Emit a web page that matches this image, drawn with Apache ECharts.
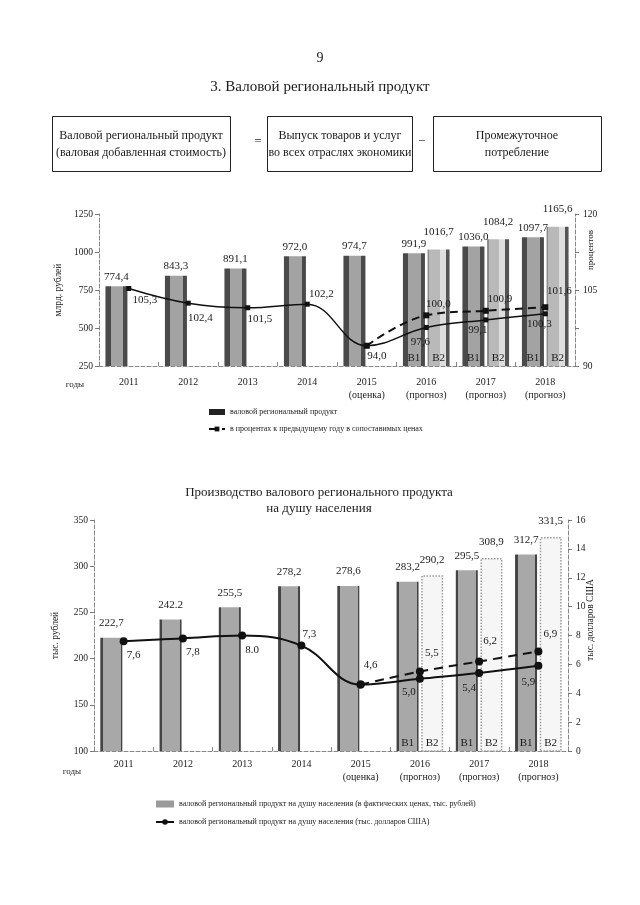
<!DOCTYPE html>
<html><head><meta charset="utf-8">
<script src="https://cdn.jsdelivr.net/npm/echarts@6/dist/echarts.min.js"></script>
<style>html,body{margin:0;padding:0;background:#fff}#c{width:640px;height:905px}</style>
</head><body><div id="c"></div>
<script>
// ---- data ----
const years = ['2011','2012','2013','2014','2015\n(оценка)','2016\n(прогноз)','2017\n(прогноз)','2018\n(прогноз)'];
const grpB1 = [774.4, 843.3, 891.1, 972.0, 974.7, 991.9, 1036.0, 1097.7];
const grpB2 = [null, null, null, null, null, 1016.7, 1084.2, 1165.6];
const grpB1Labels = ['774,4','843,3','891,1','972,0','974,7','991,9','1036,0','1097,7'];
const grpB2Labels = ['','','','','','1016,7','1084,2','1165,6'];
const growthB1 = [105.3, 102.4, 101.5, 102.2, 94.0, 97.6, 99.1, 100.3];
const growthB2 = [null, null, null, null, 94.0, 100.0, 100.9, 101.6];
const growthB1Labels = ['105,3','102,4','101,5','102,2','94,0','97,6','99,1','100,3'];
const growthB2Labels = ['','','','','','100,0','100,9','101,6'];
const perCapB1 = [222.7, 242.2, 255.5, 278.2, 278.6, 283.2, 295.5, 312.7];
const perCapB2 = [null, null, null, null, null, 290.2, 308.9, 331.5];
const perCapB1Labels = ['222,7','242.2','255,5','278,2','278,6','283,2','295,5','312,7'];
const perCapB2Labels = ['','','','','','290,2','308,9','331,5'];
const usdB1 = [7.6, 7.8, 8.0, 7.3, 4.6, 5.0, 5.4, 5.9];
const usdB2 = [null, null, null, null, 4.6, 5.5, 6.2, 6.9];
const usdB1Labels = ['7,6','7,8','8.0','7,3','4,6','5,0','5,4','5,9'];
const usdB2Labels = ['','','','','','5,5','6,2','6,9'];
const variantB1 = ['','','','','','B1','B1','B1'];
const variantB2 = ['','','','','','B2','B2','B2'];

// ---- styles (label offsets, not data) ----
const topSolidOff = [[16,12],[12,15],[12,11],[14,-10],[10,10],[-6,15],[-8,10],[-6,10]];
const topDashOff  = [null,null,null,null,null,[12,-11],[14,-12],[14,-16]];
const botSolidOff = [[10,14],[10,14],[10,15],[8,-11],[10,-19],[-11,13],[-10,15],[-10,16]];
const botDashOff  = [null,null,null,null,null,[12,-18],[11,-20],[12,-17]];

const FONT = '"Liberation Serif", "DejaVu Serif", serif';
const TXT = '#1a1a1a';
const G = echarts.graphic;

function grad(stops){ return new G.LinearGradient(0,0,1,0, stops.map(s=>({offset:s[0], color:s[1]}))); }
const topB1Color = grad([[0,'#4a4a4a'],[0.25,'#4a4a4a'],[0.25,'#a3a3a3'],[0.8,'#a3a3a3'],[0.8,'#4a4a4a'],[1,'#4a4a4a']]);
const topB2Color = grad([[0,'#8a8a8a'],[0.08,'#8a8a8a'],[0.08,'#b9b9b9'],[0.55,'#b9b9b9'],[0.55,'#dedede'],[0.82,'#dedede'],[0.82,'#555'],[1,'#555']]);
const botB1Color = grad([[0,'#444'],[0.12,'#444'],[0.12,'#a8a8a8'],[0.92,'#a8a8a8'],[0.92,'#444'],[1,'#444']]);

function lineData(vals, labels, offs){
  return vals.map((v,i)=> v==null ? null : {
    value: v,
    label: {show: !!labels[i], formatter: labels[i] || '', position: 'inside', offset: offs[i] || [0,0]}
  });
}
function barLabels(labels, dist){
  return {show:true, position:'top', distance:dist, fontFamily:FONT, fontSize:11, color:TXT,
    formatter: p => labels[p.dataIndex]};
}
function variantData(vals, tags){ return vals.map((v,i)=> tags[i] ? v : null); }
function variantLabel(tags){
  return {show:true, position:'insideBottom', distance:2, fontFamily:FONT, fontSize:11, color:TXT,
    formatter: p => tags[p.dataIndex]};
}

const axisLineStyle = {color:'#888', type:'dashed', width:1};
function catAxis(grid, margin, show){
  return {gridIndex:grid, type:'category', data:years, show:show,
    axisLine:{show:true, lineStyle:axisLineStyle},
    axisTick:{show:true, inside:true, length:4, lineStyle:{color:'#888'}},
    axisLabel:{interval:0, margin:margin, fontFamily:FONT, fontSize:10, lineHeight:13, color:TXT},
    splitLine:{show:false}};
}
function valAxis(grid, pos, min, max, interval, fmt, name, gap, margin){
  return {gridIndex:grid, type:'value', position:pos, min:min, max:max, interval:interval,
    name:name, nameLocation:'middle', nameGap:gap, nameRotate:90,
    nameTextStyle:{fontFamily:FONT, fontSize:9.5, color:TXT},
    axisLine:{show:true, lineStyle:axisLineStyle},
    axisTick:{show:true, length:4, lineStyle:{color:'#777'}},
    axisLabel:{fontFamily:FONT, fontSize:9.5, color:TXT, margin:margin, formatter:fmt},
    splitLine:{show:false}};
}
const plain = v => String(v);
const every15 = v => (v % 15 === 0 ? String(v) : '');

const nameBar1 = 'валовой региональный продукт';
const nameLine1 = 'в процентах к предыдущему году в сопоставимых ценах';
const nameBar2 = 'валовой региональный продукт на душу населения (в фактических ценах, тыс. рублей)';
const nameLine2 = 'валовой региональный продукт на душу населения (тыс. долларов США)';

const chart = echarts.init(document.getElementById('c'), null, {renderer:'canvas'});
const BW = 22, GAP = '12%';
const option = {
  backgroundColor:'#fff',
  animation:false,
  textStyle:{fontFamily:FONT},
  title:[
    {text:'9', left:'center', top:46, textStyle:{fontFamily:FONT, fontSize:14, fontWeight:'normal', color:TXT}},
    {text:'3. Валовой региональный продукт', left:'center', top:75, textStyle:{fontFamily:FONT, fontSize:15, fontWeight:'normal', color:TXT}}
  ],
  graphic:[
    {type:'text', x:319, y:501, style:{text:'Производство валового регионального продукта\nна душу населения', font:'13px '+FONT, fill:TXT, align:'center', verticalAlign:'middle', lineHeight:16}},
    {type:'rect', shape:{x:52.5,y:116.5,width:178,height:55}, style:{fill:'none', stroke:'#222', lineWidth:1}},
    {type:'text', x:141, y:144, style:{text:'Валовой региональный продукт\n(валовая добавленная стоимость)', font:'12px '+FONT, fill:TXT, align:'center', verticalAlign:'middle', lineHeight:17}},
    {type:'text', x:258, y:142, style:{text:'=', font:'13px '+FONT, fill:TXT, align:'center', verticalAlign:'middle'}},
    {type:'rect', shape:{x:267.5,y:116.5,width:145,height:55}, style:{fill:'none', stroke:'#222', lineWidth:1}},
    {type:'text', x:340, y:144, style:{text:'Выпуск товаров и услуг\nво всех отраслях экономики', font:'12px '+FONT, fill:TXT, align:'center', verticalAlign:'middle', lineHeight:17}},
    {type:'text', x:422, y:140, style:{text:'–', font:'12px '+FONT, fill:TXT, align:'center', verticalAlign:'middle'}},
    {type:'rect', shape:{x:433.5,y:116.5,width:168,height:55}, style:{fill:'none', stroke:'#222', lineWidth:1}},
    {type:'text', x:517, y:144, style:{text:'Промежуточное\nпотребление', font:'12px '+FONT, fill:TXT, align:'center', verticalAlign:'middle', lineHeight:17}},
    {type:'text', x:75, y:385, style:{text:'годы', font:'9px '+FONT, fill:TXT, align:'center', verticalAlign:'middle'}},
    {type:'text', x:72, y:772, style:{text:'годы', font:'9px '+FONT, fill:TXT, align:'center', verticalAlign:'middle'}},
    {type:'text', x:591, y:250, rotation:Math.PI/2, style:{text:'процентов', font:'9px '+FONT, fill:TXT, align:'center', verticalAlign:'middle'}},
    {type:'text', x:590, y:620, rotation:Math.PI/2, style:{text:'тыс. долларов США', font:'9.5px '+FONT, fill:TXT, align:'center', verticalAlign:'middle'}}
  ],
  legend:[
    {orient:'vertical', left:203, top:403, itemWidth:16, itemHeight:6, itemGap:9,
      textStyle:{fontFamily:FONT, fontSize:8, color:TXT},
      data:[{name:nameBar1, icon:'rect', itemStyle:{color:'#222'}}, {name:nameLine1}]},
    {orient:'vertical', left:150, top:795, itemWidth:18, itemHeight:7, itemGap:10,
      textStyle:{fontFamily:FONT, fontSize:8, color:TXT},
      data:[{name:nameBar2, icon:'rect', itemStyle:{color:'#9a9a9a'}}, {name:nameLine2}]}
  ],
  grid:[
    {left:99, top:214, width:476, height:152},
    {left:94, top:520, width:474, height:231}
  ],
  xAxis:[
    catAxis(0, 10, true), catAxis(0, 10, false),
    catAxis(1, 7, true), catAxis(1, 7, false)
  ],
  yAxis:[
    valAxis(0, 'left', 250, 1250, 250, plain, 'млрд. рублей', 32, 6),
    valAxis(0, 'right', 90, 120, 7.5, every15, '', 0, 8),
    valAxis(1, 'left', 100, 350, 50, plain, 'тыс. рублей', 34, 6),
    valAxis(1, 'right', 0, 16, 2, plain, '', 0, 8)
  ],
  series:[
    // top chart bars
    {type:'bar', name:nameBar1, xAxisIndex:0, yAxisIndex:0, data:grpB1, barWidth:BW, barGap:GAP,
      itemStyle:{color:topB1Color}, label:barLabels(grpB1Labels, 4)},
    {type:'bar', name:'grpB2', xAxisIndex:0, yAxisIndex:0, data:grpB2, barWidth:BW, barGap:GAP,
      itemStyle:{color:topB2Color}, label:barLabels(grpB2Labels, 12)},
    {type:'bar', name:'tagB1a', xAxisIndex:1, yAxisIndex:0, data:variantData(grpB1, variantB1), barWidth:BW, barGap:GAP,
      silent:true, itemStyle:{color:'rgba(0,0,0,0)'}, label:variantLabel(variantB1)},
    {type:'bar', name:'tagB2a', xAxisIndex:1, yAxisIndex:0, data:variantData(grpB2, variantB2), barWidth:BW, barGap:GAP,
      silent:true, itemStyle:{color:'rgba(0,0,0,0)'}, label:variantLabel(variantB2)},
    // top chart lines
    {type:'line', name:'growthB1', xAxisIndex:0, yAxisIndex:1, smooth:0.4, data:lineData(growthB1, growthB1Labels, topSolidOff),
      symbol:'rect', symbolSize:5, itemStyle:{color:'#111'}, lineStyle:{color:'#111', width:1.5},
      label:{fontFamily:FONT, fontSize:11, color:TXT}, z:5},
    {type:'line', name:nameLine1, xAxisIndex:0, yAxisIndex:1, smooth:0.4, data:lineData(growthB2, growthB2Labels, topDashOff),
      symbol:'rect', symbolSize:6, itemStyle:{color:'#111'}, lineStyle:{color:'#111', width:2, type:[8,5]},
      label:{fontFamily:FONT, fontSize:11, color:TXT}, z:5},
    // bottom chart bars
    {type:'bar', name:nameBar2, xAxisIndex:2, yAxisIndex:2, data:perCapB1, barWidth:BW, barGap:GAP,
      itemStyle:{color:botB1Color}, label:barLabels(perCapB1Labels, 9)},
    {type:'bar', name:'perCapB2', xAxisIndex:2, yAxisIndex:2, data:perCapB2, barWidth:BW, barGap:GAP,
      itemStyle:{color:'#f6f6f6', borderColor:'#9a9a9a', borderWidth:1.5, borderType:'dotted'}, label:barLabels(perCapB2Labels, 10)},
    {type:'bar', name:'tagB1b', xAxisIndex:3, yAxisIndex:2, data:variantData(perCapB1, variantB1), barWidth:BW, barGap:GAP,
      silent:true, itemStyle:{color:'rgba(0,0,0,0)'}, label:variantLabel(variantB1)},
    {type:'bar', name:'tagB2b', xAxisIndex:3, yAxisIndex:2, data:variantData(perCapB2, variantB2), barWidth:BW, barGap:GAP,
      silent:true, itemStyle:{color:'rgba(0,0,0,0)'}, label:variantLabel(variantB2)},
    // bottom chart lines
    {type:'line', name:nameLine2, xAxisIndex:2, yAxisIndex:3, smooth:0.4, data:lineData(usdB1, usdB1Labels, botSolidOff),
      symbol:'circle', symbolSize:8, itemStyle:{color:'#111'}, lineStyle:{color:'#111', width:2},
      label:{fontFamily:FONT, fontSize:11, color:TXT}, z:5},
    {type:'line', name:'usdB2', xAxisIndex:2, yAxisIndex:3, smooth:0.4, data:lineData(usdB2, usdB2Labels, botDashOff),
      symbol:'circle', symbolSize:8, itemStyle:{color:'#111'}, lineStyle:{color:'#111', width:2, type:[9,6]},
      label:{fontFamily:FONT, fontSize:11, color:TXT}, z:5}
  ]
};
chart.setOption(option);
</script>
</body></html>
